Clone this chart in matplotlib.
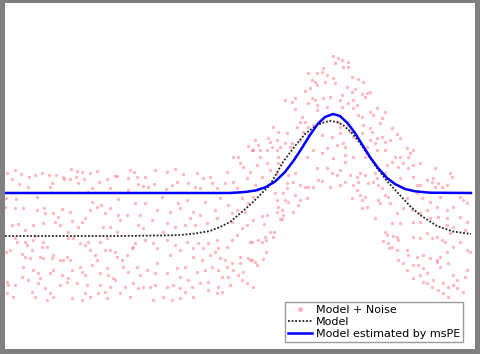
import numpy as np
import matplotlib
matplotlib.use("Agg")
import matplotlib.pyplot as plt

# values, in picture pixels (x from left, y from top)
model_x = [5, 60, 120, 160, 180, 195, 210, 220, 230, 243, 252, 260, 270, 283, 295, 305,
           317, 325, 330, 337, 343, 352, 360, 370, 377, 387, 397, 410, 420, 437, 453, 471]
model_y = [236, 236, 236, 235.5, 235, 233.5, 231, 227, 222, 211, 203, 195, 185, 162, 146, 134,
           125, 122, 121, 122, 125, 133, 143, 158, 168, 181, 192, 206, 215, 226, 231.5, 234]

fit_x = [5, 100, 200, 230, 245, 255, 265, 275, 285, 293, 300, 310, 318, 325, 333, 340,
         348, 355, 363, 370, 378, 387, 395, 405, 415, 430, 471]
fit_y = [193, 193, 193, 193, 192, 190.6, 187.5, 181.6, 172, 161.5, 151, 135, 123.6, 117, 114, 116,
         123.6, 133, 146, 157, 168, 178, 184, 189, 191.3, 192.7, 193]

noise_points = [
    # left part
    (7, 173), (15, 170), (12, 179), (21, 174), (19, 184), (29, 177), (35, 175), (28, 187), (42, 173),
    (49, 175), (52, 183), (50, 187), (56, 175), (63, 177), (64, 179), (71, 169), (70, 179), (77, 171),
    (82, 172), (76, 177), (78, 183), (84, 179), (90, 173), (92, 188), (97, 171), (99, 182), (107, 179),
    (115, 176), (117, 176), (110, 188), (130, 170), (134, 172), (137, 177), (128, 178), (138, 184),
    (145, 177), (143, 186), (148, 187), (155, 170), (154, 184), (88, 192), (128, 190),
    (6, 198), (16, 199), (5, 207), (37, 197), (15, 208), (23, 208), (37, 210), (44, 208), (45, 213),
    (53, 213), (62, 209), (58, 217), (55, 222), (70, 212), (72, 221), (60, 225), (68, 232), (78, 227),
    (82, 222), (85, 218), (92, 202), (90, 210), (97, 207), (101, 205), (105, 213), (110, 208), (118, 199),
    (118, 215), (103, 227), (110, 227), (117, 232), (120, 220), (127, 215), (135, 203), (140, 215),
    (138, 225), (143, 228), (145, 203), (152, 220), (157, 210), (12, 225), (18, 224), (25, 230),
    (33, 225), (43, 223),
    (6, 252), (10, 250), (15, 238), (17, 242), (25, 242), (27, 245), (33, 240), (35, 236), (43, 242),
    (42, 247), (47, 247), (32, 250), (22, 254), (25, 257), (30, 258), (40, 257), (43, 258), (52, 258),
    (53, 255), (60, 260), (63, 260), (67, 257), (70, 260), (68, 238), (73, 238), (80, 243), (85, 245),
    (88, 242), (90, 250), (95, 255), (97, 260), (100, 242), (105, 250), (110, 250), (115, 252),
    (107, 238), (117, 257), (122, 260), (127, 255), (132, 248), (135, 243), (133, 247), (145, 240),
    (153, 243), (157, 248),
    (23, 267), (33, 270), (38, 273), (40, 278), (50, 273), (53, 270), (62, 275), (68, 278), (72, 270),
    (80, 267), (82, 272), (85, 275), (92, 265), (100, 273), (107, 268), (108, 275), (113, 278),
    (123, 267), (128, 272), (137, 267), (140, 275), (147, 270), (157, 263), (155, 273),
    (7, 282), (8, 285), (15, 285), (22, 277), (28, 280), (32, 292), (38, 283), (45, 288), (50, 293),
    (53, 297), (60, 285), (67, 282), (72, 298), (77, 283), (85, 293), (87, 285), (90, 297), (98, 293),
    (100, 285), (105, 292), (110, 287), (115, 280), (120, 293), (125, 287), (130, 297), (133, 283),
    (138, 288), (143, 287), (150, 287), (155, 285), (153, 300), (7, 293), (13, 297), (35, 297),
    (47, 300), (82, 300), (107, 298),
    # middle part
    (167, 172), (175, 169), (183, 174), (177, 182), (172, 185), (188, 183), (197, 173), (195, 187),
    (203, 178), (210, 177), (212, 183), (217, 188), (227, 172), (225, 183), (233, 182), (237, 188),
    (240, 163), (243, 167), (247, 178), (250, 172), (255, 185), (257, 165), (262, 177), (267, 163),
    (270, 170), (277, 173), (278, 163), (257, 190), (200, 188), (166, 189), (288, 175), (317, 168),
    (295, 173),
    (162, 197), (170, 212), (178, 203), (180, 208), (187, 200), (193, 212), (190, 218), (200, 215),
    (205, 202), (215, 210), (217, 218), (220, 198), (228, 205), (232, 213), (237, 210), (242, 198),
    (248, 203), (253, 197), (245, 212), (167, 223), (175, 227), (185, 225), (195, 225), (207, 223),
    (232, 222), (163, 232),
    (167, 240), (175, 245), (170, 255), (180, 250), (187, 242), (193, 248), (198, 243), (203, 248),
    (208, 243), (217, 240), (218, 248), (215, 252), (227, 247), (232, 240), (237, 235), (242, 228),
    (247, 225), (250, 242), (252, 242), (253, 220), (258, 240), (252, 260), (248, 258), (240, 257),
    (232, 263), (225, 260), (220, 258), (210, 255), (202, 260), (193, 257), (185, 267), (177, 268),
    (167, 273), (180, 277), (188, 280), (197, 272), (205, 270), (212, 267), (218, 270), (227, 267),
    (233, 270), (240, 263), (243, 272), (238, 275), (228, 277), (222, 277), (208, 282), (200, 283),
    (192, 287), (185, 292), (180, 288), (173, 285), (167, 287), (163, 297), (172, 300), (180, 298),
    (193, 297), (208, 290), (218, 287), (217, 293), (222, 292), (230, 285), (242, 280), (250, 260),
    (255, 262), (257, 265), (247, 283), (253, 287),
    # peak, upper part
    (308, 73), (317, 73), (312, 80), (315, 82), (317, 85), (305, 91), (310, 88), (295, 98), (292, 102),
    (285, 100), (308, 103), (312, 98), (315, 100), (317, 105), (317, 110), (295, 109), (302, 117),
    (300, 122), (305, 122), (297, 127), (308, 127), (313, 125), (273, 127), (278, 132), (287, 133),
    (303, 132), (308, 135), (255, 140), (258, 145), (248, 146), (253, 150), (260, 150), (268, 138),
    (270, 142), (272, 147), (267, 150), (277, 150), (280, 147), (285, 143), (292, 143), (290, 147),
    (300, 140), (252, 150), (233, 157), (238, 157), (260, 157), (278, 157), (307, 157), (313, 150),
    (277, 140),
    (333, 56), (338, 58), (342, 60), (335, 63), (343, 67), (348, 62), (348, 67), (323, 68), (322, 72),
    (327, 75), (333, 78), (325, 82), (335, 83), (352, 77), (358, 79), (363, 82), (347, 87), (355, 89),
    (352, 92), (362, 94), (367, 93), (370, 92), (365, 97), (342, 95), (330, 97), (323, 98), (327, 107),
    (340, 100), (348, 103), (353, 100), (357, 105), (353, 108), (342, 107), (370, 112), (377, 108),
    (385, 112), (373, 115), (382, 118), (358, 115), (362, 117), (380, 123), (370, 128), (372, 132),
    (392, 128), (397, 134), (400, 138), (382, 137), (377, 138), (370, 140), (375, 143), (385, 142),
    (390, 140), (327, 148), (332, 137), (343, 143), (345, 147), (337, 145), (340, 133), (350, 132),
    (353, 137), (338, 122), (340, 127), (348, 125), (363, 125), (362, 133), (367, 147), (377, 150),
    (385, 150), (395, 157), (400, 157), (408, 157), (407, 148), (413, 150), (410, 153), (322, 135),
    (322, 153), (333, 158), (345, 155), (353, 157), (365, 157),
    # right part
    (327, 168), (332, 173), (337, 175), (340, 170), (345, 162), (350, 175), (360, 173), (365, 175),
    (375, 173), (377, 178), (385, 173), (387, 165), (392, 162), (398, 167), (403, 163), (408, 168),
    (413, 165), (420, 163), (400, 178), (433, 178), (435, 168), (450, 173), (452, 177), (413, 177),
    (357, 177),
    (273, 182), (287, 183), (287, 188), (293, 182), (300, 185), (305, 187), (308, 187), (313, 187),
    (318, 180), (322, 181), (330, 187), (340, 185), (345, 182), (353, 185), (358, 182), (368, 183),
    (373, 182), (378, 185), (382, 188), (275, 193), (283, 193), (295, 195), (357, 190), (360, 195),
    (365, 197), (362, 200), (352, 198), (367, 207), (362, 208), (378, 200), (380, 203), (385, 195),
    (388, 197), (390, 203), (403, 208), (407, 198), (277, 200), (285, 200), (288, 202), (278, 207),
    (282, 210), (277, 212), (283, 215), (293, 212), (298, 205), (300, 200), (307, 198), (262, 216),
    (267, 215), (264, 224), (280, 219), (282, 219), (270, 232), (274, 232), (265, 237), (273, 237),
    (266, 240), (262, 242), (266, 252), (263, 259),
    (397, 213), (375, 218), (392, 223), (400, 223), (385, 232), (387, 235), (393, 236), (397, 237),
    (398, 240), (383, 241), (388, 243), (392, 247), (389, 248), (397, 250), (407, 250), (408, 255),
    (398, 260), (403, 263), (407, 270),
    (417, 185), (420, 185), (427, 180), (432, 182), (435, 187), (438, 183), (442, 187), (447, 185),
    (417, 193), (422, 198), (430, 202), (440, 197), (460, 197), (463, 200), (467, 203), (453, 207),
    (447, 210), (437, 207), (427, 210), (420, 213), (412, 210), (413, 222), (420, 222), (430, 218),
    (438, 217), (447, 218), (460, 217), (467, 222), (453, 227), (447, 225), (465, 230), (413, 237),
    (420, 238), (427, 233), (432, 238), (437, 237), (442, 240), (445, 242), (450, 233), (460, 242),
    (467, 250), (470, 252), (453, 247), (447, 252), (440, 257), (437, 260), (430, 258), (423, 255),
    (417, 257), (413, 265), (418, 265), (423, 268), (427, 273), (437, 262), (440, 267), (448, 263),
    (453, 275), (457, 280), (465, 277), (467, 270), (420, 275), (413, 278), (423, 282), (427, 283),
    (433, 280), (443, 283), (448, 287), (453, 285), (457, 288), (432, 287), (438, 290), (443, 293),
    (448, 297), (463, 292),
]
noise = np.array(noise_points, dtype=float)

fig = plt.figure(figsize=(4.8, 3.54), dpi=100, facecolor='#808080')
ax = fig.add_axes([4.5 / 480, 5 / 354, 470.5 / 480, 346 / 354])
ax.set_facecolor('white')

ax.plot(noise[:, 0], noise[:, 1], 'o', color='#ff3048', alpha=0.35, ms=2.4, mec='none',
        label='Model + Noise')
ax.plot(model_x, model_y, color='#222222', lw=1.3, linestyle=(0, (1, 1)), label='Model')
ax.plot(fit_x, fit_y, color='blue', lw=1.8, label='Model estimated by msPE')

ax.set_xlim(4.5, 475)
ax.set_ylim(349, 3)
ax.set_xticks([])
ax.set_yticks([])
for s in ax.spines.values():
    s.set_visible(False)

leg = ax.legend(loc='lower right', bbox_to_anchor=((463 - 4.5) / 470.5, 7 / 346), borderaxespad=0,
                fontsize=8, fancybox=False, edgecolor='#9a9a9a', framealpha=1,
                labelspacing=0.2, borderpad=0.25, handlelength=2.2, handletextpad=0.35,
                markerscale=1.5)
leg.get_frame().set_linewidth(1.0)

fig.savefig('out.png', dpi=100, facecolor=fig.get_facecolor())
